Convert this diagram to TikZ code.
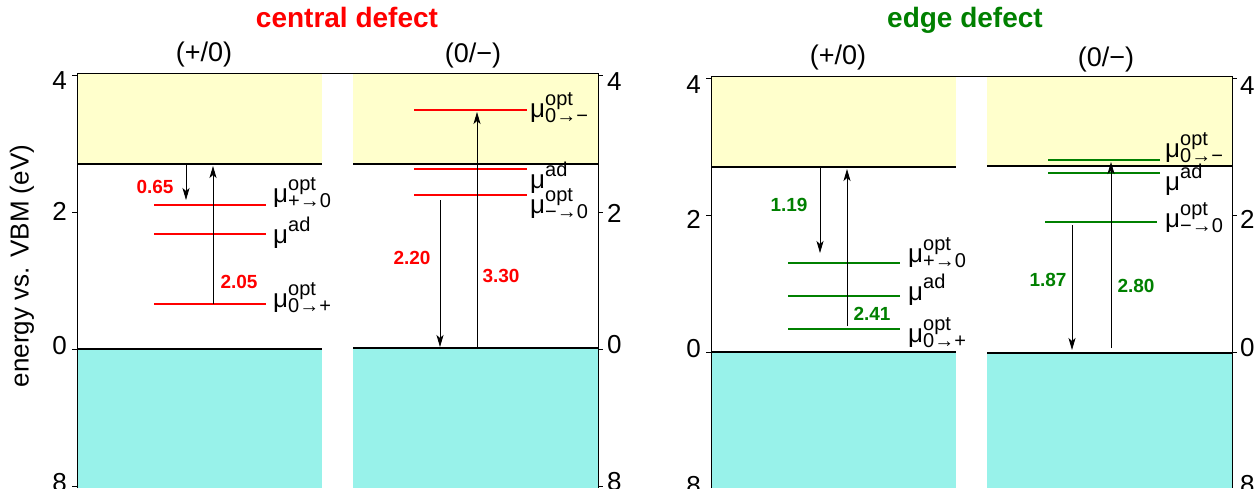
\documentclass[tikz,border=0pt]{standalone}
\usepackage{fontspec}
\setmainfont{Liberation Sans}
\usetikzlibrary{arrows.meta}

\definecolor{cbyellow}{RGB}{255,255,204}
\definecolor{vbcyan}{RGB}{152,242,234}
\definecolor{lvred}{RGB}{255,0,0}
\definecolor{lvgreen}{RGB}{0,128,0}

\newcommand{\fsz}[1]{\fontsize{#1}{#1}\selectfont}
% mu with stacked super- and subscript
\newcommand{\mulev}[2]{\fsz{26}μ\rlap{\raisebox{12pt}{\fsz{20}#1}}\raisebox{-5pt}{\fsz{20}#2}}

\begin{document}
\begin{tikzpicture}[
    x=1pt, y=-1pt,
    band/.style={line width=1.8pt},
    axis/.style={line width=0.8pt},
    redlev/.style={draw=lvred, line width=1.8pt},
    grnlev/.style={draw=lvgreen, line width=1.8pt},
    trans/.style={-{Stealth[length=12pt,width=7pt,inset=3pt]}, line width=0.8pt},
    mulab/.style={anchor=base west, inner sep=0pt},
    ticklab/.style={inner sep=0pt, font=\fsz{26}},
    head/.style={font=\fsz{27}},
    numred/.style={text=lvred, font=\fsz{19}\bfseries},
    numgrn/.style={text=lvgreen, font=\fsz{19}\bfseries}
  ]
    \useasboundingbox (0,0) rectangle (1255,488);

    % titles
    \node[anchor=base, text=lvred, font=\fsz{28}\bfseries] (tcentral) at (347,27) {central defect};
    \node[anchor=base, text=lvgreen, font=\fsz{28}\bfseries] (tedge) at (965,27) {edge defect};
    \node[head] (hA) at (204,55) {(+/0)};
    \node[head] (hB) at (473,56) {(0/−)};
    \node[head] (hC) at (838,58) {(+/0)};
    \node[head] (hD) at (1106,60) {(0/−)};
    \node[rotate=90, font=\fsz{26}] (ylab) at (22,266) {energy vs. VBM (eV)};

    % ---- central defect: bands
    \fill[cbyellow] (77,74) rectangle (322,164);
    \fill[vbcyan] (77,349) rectangle (322,488);
    \fill[cbyellow] (353,74) rectangle (598,164);
    \fill[vbcyan] (353,348) rectangle (598,488);
    \draw[axis] (77,488) -- (77,73.5) -- (598,73.5) -- (598,488);
    \foreach \yy in {75,212,349,486} {
      \draw[axis] (77,\yy) -- (72,\yy);
      \draw[axis] (598,\yy) -- (603,\yy);
    }
    \draw[band] (77,164) -- (322,164);
    \draw[band] (77,349) -- (322,349);
    \draw[band] (353,164) -- (598,164);
    \draw[band] (353,348) -- (598,348);
    \node[ticklab, anchor=east] (lA4) at (67,81) {4};
    \node[ticklab, anchor=east] (lA2) at (67,211) {2};
    \node[ticklab, anchor=east] (lA0) at (67,346) {0};
    \node[ticklab, anchor=east] (lA8) at (67,483) {8};
    \node[ticklab, anchor=west] (lB4) at (607,82) {4};
    \node[ticklab, anchor=west] (lB2) at (607,213) {2};
    \node[ticklab, anchor=west] (lB0) at (607,345) {0};
    \node[ticklab, anchor=west] (lB8) at (607,482) {8};

    % ---- edge defect: bands
    \fill[cbyellow] (711,77) rectangle (956,167);
    \fill[vbcyan] (711,352) rectangle (956,488);
    \fill[cbyellow] (987,77) rectangle (1232,166);
    \fill[vbcyan] (987,353) rectangle (1232,488);
    \draw[axis] (711,488) -- (711,76.5) -- (1232,76.5) -- (1232,488);
    \foreach \yy in {78,215,352,489} {
      \draw[axis] (711,\yy) -- (706,\yy);
      \draw[axis] (1232,\yy) -- (1237,\yy);
    }
    \draw[band] (711,167) -- (956,167);
    \draw[band] (711,352) -- (956,352);
    \draw[band] (987,166) -- (1232,166);
    \draw[band] (987,353) -- (1232,353);
    \node[ticklab, anchor=east] (lC4) at (701,85) {4};
    \node[ticklab, anchor=east] (lC2) at (701,219) {2};
    \node[ticklab, anchor=east] (lC0) at (701,349) {0};
    \node[ticklab, anchor=east] (lC8) at (701,486) {8};
    \node[ticklab, anchor=west] (lD4) at (1240,86) {4};
    \node[ticklab, anchor=west] (lD2) at (1240,219) {2};
    \node[ticklab, anchor=west] (lD0) at (1240,348) {0};
    \node[ticklab, anchor=west] (lD8) at (1240,485) {8};

    % ---- levels
    \draw[redlev] (154,205) -- (266,205);
    \draw[redlev] (154,234) -- (266,234);
    \draw[redlev] (154,304) -- (266,304);
    \draw[redlev] (414,110) -- (527,110);
    \draw[redlev] (414,169) -- (527,169);
    \draw[redlev] (414,195) -- (527,195);
    \draw[grnlev] (788,263) -- (900,263);
    \draw[grnlev] (788,296) -- (900,296);
    \draw[grnlev] (788,329) -- (900,329);
    \draw[grnlev] (1048,160) -- (1160,160);
    \draw[grnlev] (1048,173) -- (1160,173);
    \draw[grnlev] (1045,222) -- (1157,222);

    \node[mulab] (mA1) at (273,202) {\mulev{opt}{+→0}};
    \node[mulab] (mA2) at (273,243) {\mulev{ad}{}};
    \node[mulab] (mA3) at (273,307) {\mulev{opt}{0→+}};
    \node[mulab] (mB1) at (530,117) {\mulev{opt}{0→−}};
    \node[mulab] (mB2) at (530,188) {\mulev{ad}{}};
    \node[mulab] (mB3) at (530,213) {\mulev{opt}{−→0}};
    \node[mulab] (mC1) at (908,262) {\mulev{opt}{+→0}};
    \node[mulab] (mC2) at (908,300) {\mulev{ad}{}};
    \node[mulab] (mC3) at (908,342) {\mulev{opt}{0→+}};
    \node[mulab] (mD1) at (1165,157) {\mulev{opt}{0→−}};
    \node[mulab] (mD2) at (1165,190) {\mulev{ad}{}};
    \node[mulab] (mD3) at (1165,227) {\mulev{opt}{−→0}};

    % ---- transitions
    \coordinate (aA1) at (186,165);  \coordinate (bA1) at (186,200);
    \coordinate (aA2) at (213,304);  \coordinate (bA2) at (213,166);
    \coordinate (aB1) at (440,200);  \coordinate (bB1) at (440,347);
    \coordinate (aB2) at (477,347);  \coordinate (bB2) at (477,112);
    \coordinate (aC1) at (820,168);  \coordinate (bC1) at (820,253);
    \coordinate (aC2) at (847,326);  \coordinate (bC2) at (847,169);
    \coordinate (aD1) at (1072,225); \coordinate (bD1) at (1072,350);
    \coordinate (aD2) at (1111,348); \coordinate (bD2) at (1111,162);
    \draw[trans] (aA1) -- (bA1);
    \draw[trans] (aA2) -- (bA2);
    \draw[trans] (aB1) -- (bB1);
    \draw[trans] (aB2) -- (bB2);
    \draw[trans] (aC1) -- (bC1);
    \draw[trans] (aC2) -- (bC2);
    \draw[trans] (aD1) -- (bD1);
    \draw[trans] (aD2) -- (bD2);

    \node[numred] (eA1) at (155,187) {0.65};
    \node[numred] (eA2) at (239,282) {2.05};
    \node[numred] (eB1) at (412,258) {2.20};
    \node[numred] (eB2) at (501,276) {3.30};
    \node[numgrn] (eC1) at (789,205) {1.19};
    \node[numgrn] (eC2) at (872,314) {2.41};
    \node[numgrn] (eD1) at (1048,280) {1.87};
    \node[numgrn] (eD2) at (1136,286) {2.80};
  \end{tikzpicture}
\end{document}
